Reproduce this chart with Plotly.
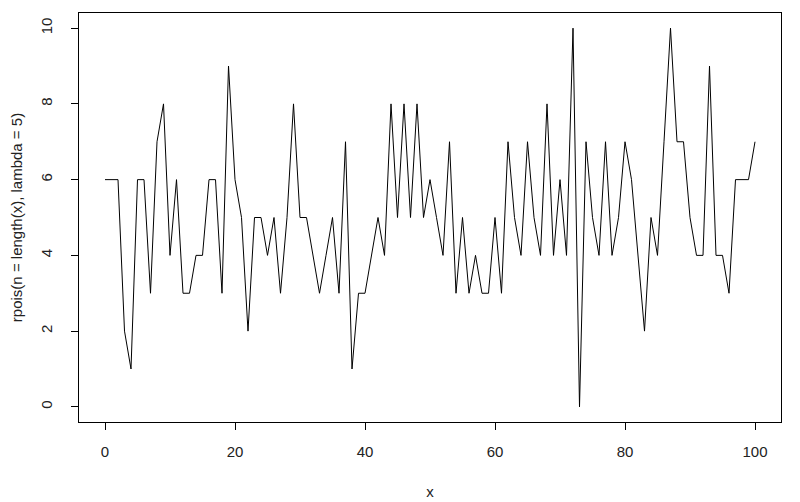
import plotly.graph_objects as go

x_values = list(range(0, 101))
y_values = [6, 6, 6, 2, 1, 6, 6, 3, 7, 8,
            4, 6, 3, 3, 4, 4, 6, 6, 3, 9,
            6, 5, 2, 5, 5, 4, 5, 3, 5, 8,
            5, 5, 4, 3, 4, 5, 3, 7, 1, 3,
            3, 4, 5, 4, 8, 5, 8, 5, 8, 5,
            6, 5, 4, 7, 3, 5, 3, 4, 3, 3,
            5, 3, 7, 5, 4, 7, 5, 4, 8, 4,
            6, 4, 10, 0, 7, 5, 4, 7, 4, 5,
            7, 6, 4, 2, 5, 4, 7, 10, 7, 7,
            5, 4, 4, 9, 4, 4, 3, 6, 6, 6,
            7]
x_ticks = [0, 20, 40, 60, 80, 100]
y_ticks = [0, 2, 4, 6, 8, 10]
x_title = "x"
y_title = "rpois(n = length(x), lambda = 5)"

font = dict(family="Liberation Sans, Arial, sans-serif", size=15, color="#222222")

fig = go.Figure(go.Scatter(x=x_values, y=y_values, mode="lines",
                           line=dict(color="#000000", width=1)))

fig.update_layout(
    width=792, height=494,
    margin=dict(l=65, r=19, t=4, b=75),
    plot_bgcolor="white", paper_bgcolor="white",
    showlegend=False, font=font,
)
fig.update_xaxes(range=[-4, 104], tickvals=x_ticks, ticks="outside", ticklen=7,
                 tickcolor="#000000", showgrid=False, zeroline=False,
                 showline=True, linecolor="#000000", linewidth=1, mirror=True,
                 ticklabelstandoff=9,
                 title=dict(text=x_title, standoff=27, font=font))
fig.update_yaxes(range=[-0.4, 10.4], tickvals=y_ticks, ticks="outside", ticklen=7,
                 tickcolor="#000000", showgrid=False, zeroline=False,
                 showline=True, linecolor="#000000", linewidth=1, mirror=True,
                 tickangle=-90, ticklabelstandoff=13,
                 title=dict(text=y_title, standoff=15, font=font))

fig.write_html("out.html")
